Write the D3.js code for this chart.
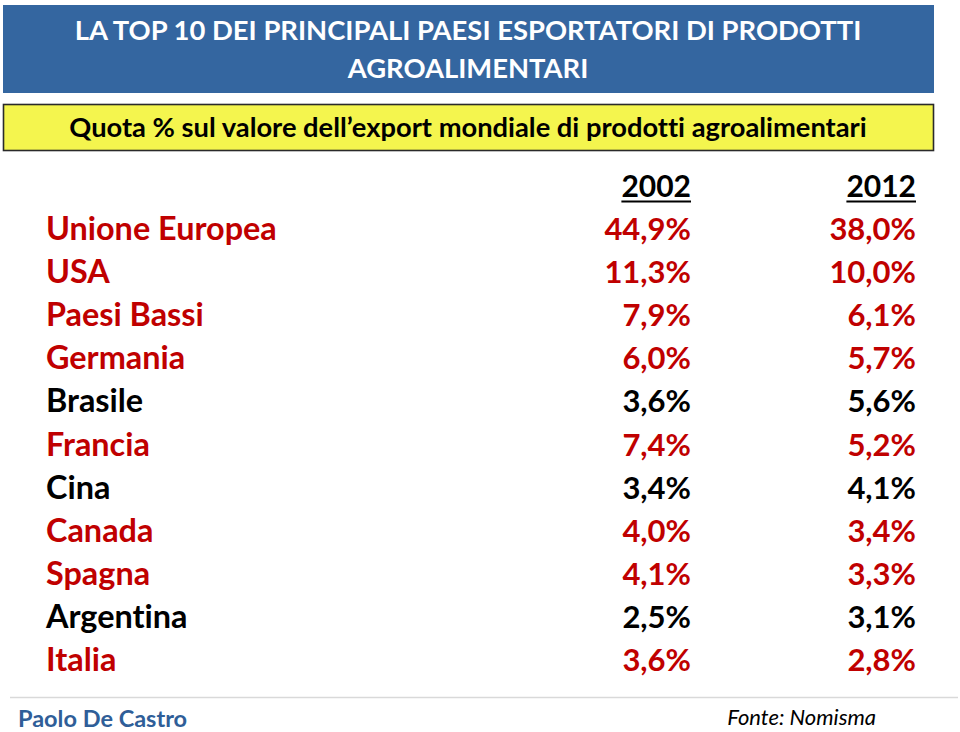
<!DOCTYPE html>
<html><head><meta charset="utf-8">
<script src="https://cdn.jsdelivr.net/npm/d3@7"></script>
<style>
html,body{margin:0;padding:0;background:#fff;}
svg{display:block;}
text{font-family:Lato,"Open Sans",sans-serif;font-variant-ligatures:none;font-feature-settings:"liga" 0,"dlig" 0;}
</style></head>
<body>
<script>
const titleLines = ["LA TOP 10 DEI PRINCIPALI PAESI ESPORTATORI DI PRODOTTI", "AGROALIMENTARI"];
const subtitle = "Quota % sul valore dell\u2019export mondiale di prodotti agroalimentari";
const years = ["2002", "2012"];
const countries = ["Unione Europea","USA","Paesi Bassi","Germania","Brasile","Francia","Cina","Canada","Spagna","Argentina","Italia"];
const values2002 = [44.9, 11.3, 7.9, 6.0, 3.6, 7.4, 3.4, 4.0, 4.1, 2.5, 3.6];
const values2012 = [38.0, 10.0, 6.1, 5.7, 5.6, 5.2, 4.1, 3.4, 3.3, 3.1, 2.8];
const highlighted = [true, true, true, true, false, true, false, true, true, false, true];
const author = "Paolo De Castro";
const source = "Fonte: Nomisma";

const W = 960, H = 732;
const svg = d3.select("body").append("svg").attr("width", W).attr("height", H);

// header box
svg.append("rect").attr("x",3).attr("y",5).attr("width",931).attr("height",88).attr("fill","#3466A0");
svg.append("text").attr("x",468).attr("text-anchor","middle").attr("fill","#fff")
  .attr("font-weight",700).attr("font-size",27.4)
  .selectAll("tspan").data(titleLines).join("tspan")
  .attr("x",468).attr("y",(d,i)=>40+i*38).text(d=>d);

// subtitle box
svg.append("rect").attr("x",3.5).attr("y",104.5).attr("width",930).attr("height",46)
  .attr("fill","#F4F54E").attr("stroke","#2a2a2a").attr("stroke-width",1.6);
svg.append("text").attr("x",468).attr("y",137).attr("text-anchor","middle")
  .attr("font-weight",700).attr("font-size",27.3).attr("fill","#000").text(subtitle);

// scales
const y = d3.scalePoint().domain(countries).range([240, 671]);
const x = d3.scalePoint().domain(years).range([691, 916]);
const fmt = v => d3.format(".1f")(v).replace(".", ",") + "%";
const red = "#C00000";
const fs = 31;

// column headers
years.forEach(yr => {
  const t = svg.append("text").attr("x", x(yr)).attr("y", 197).attr("text-anchor","end")
    .attr("font-weight",700).attr("font-size",30).attr("fill","#000").text(yr);
  const bb = t.node().getBBox();
  svg.append("line").attr("x1", bb.x).attr("x2", bb.x+bb.width).attr("y1",201.5).attr("y2",201.5)
    .attr("stroke","#000").attr("stroke-width",2.2);
});

const rows = countries.map((c,i)=>({c, v:[values2002[i], values2012[i]], h:highlighted[i]}));
const g = svg.append("g").selectAll("g").data(rows).join("g");
g.append("text").attr("x",46).attr("y",d=>y(d.c)).attr("font-weight",700).attr("font-size",32.4)
  .attr("fill",d=>d.h?red:"#000").text(d=>d.c);
years.forEach((yr,j)=>{
  g.append("text").attr("x",x(yr)).attr("y",d=>y(d.c)).attr("text-anchor","end")
    .attr("font-weight",700).attr("font-size",fs).attr("fill",d=>d.h?red:"#000").text(d=>fmt(d.v[j]));
});

// footer
svg.append("line").attr("x1",10).attr("x2",958).attr("y1",697.5).attr("y2",697.5)
  .attr("stroke","#d9d9d9").attr("stroke-width",1.5);
svg.append("text").attr("x",18).attr("y",727).attr("font-weight",700).attr("font-size",23.5)
  .attr("fill","#2F5E98").text(author);
svg.append("text").attr("x",876).attr("y",725).attr("text-anchor","end").attr("font-style","italic")
  .attr("font-size",22).attr("fill","#000").text(source);
</script>
</body></html>
